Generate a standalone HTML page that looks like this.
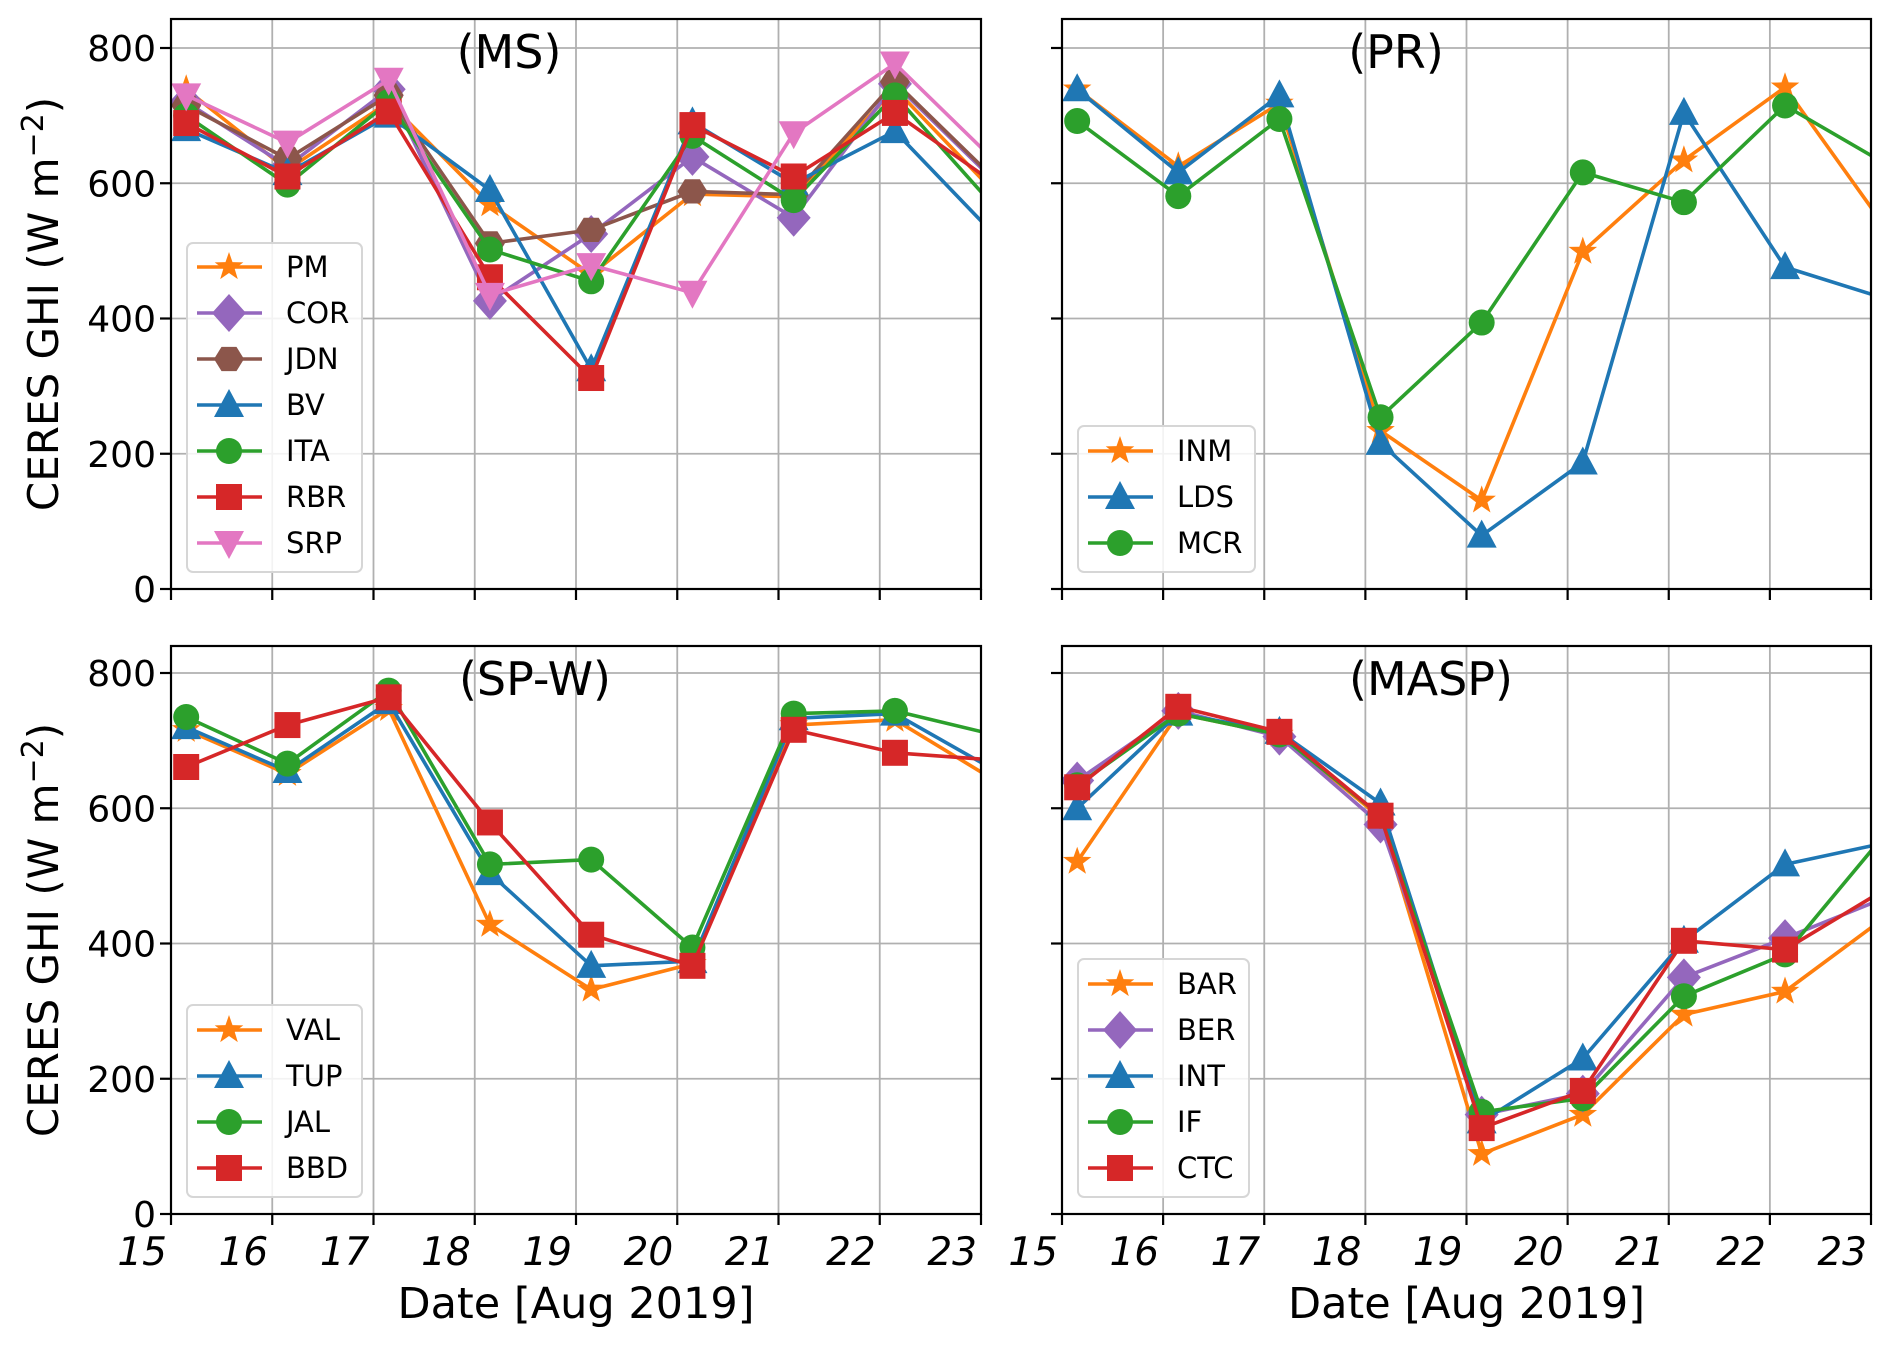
<!DOCTYPE html>
<html><head><meta charset="utf-8">
<style>
html,body{margin:0;padding:0;background:#fff;}
svg{display:block;font-family:"DejaVu Sans","Liberation Sans",sans-serif;}
</style></head>
<body>
<svg id="chart" width="1892" height="1347" viewBox="0 0 1892 1347" xmlns="http://www.w3.org/2000/svg"></svg>
<script>
// ---- data ----
const dayTicks = [15,16,17,18,19,20,21,22,23];
const dayX = [15.15,16.15,17.15,18.15,19.15,20.15,21.15,22.15,23.15];
const yTicks = [0,200,400,600,800];

const msNames = ["PM","COR","JDN","BV","ITA","RBR","SRP"];
const msPM  = [739,620,720,569,465,584,580,740,584];
const msCOR = [720,625,739,426,525,639,549,747,601];
const msJDN = [715,636,730,511,531,588,583,750,604];
const msBV  = [680,615,700,590,325,690,600,677,521];
const msITA = [700,598,720,502,455,670,575,730,562];
const msRBR = [689,610,706,461,312,686,610,704,598];
const msSRP = [730,660,753,435,479,438,674,777,631];

const prNames = ["INM","LDS","MCR"];
const prINM = [739,625,718,234,131,499,634,742,533];
const prLDS = [739,616,730,216,79,187,704,476,429];
const prMCR = [692,581,695,254,394,616,572,715,628];

const spNames = ["VAL","TUP","JAL","BBD"];
const spVAL = [716,651,747,428,332,370,723,731,640];
const spTUP = [720,655,757,504,367,374,733,740,655];
const spJAL = [735,666,774,517,524,394,740,744,708];
const spBBD = [661,723,764,579,413,367,716,682,671];

const maNames = ["BAR","BER","INT","IF","CTC"];
const maBAR = [521,740,709,586,89,147,295,329,440];
const maBER = [641,744,706,576,147,178,350,408,468];
const maINT = [600,740,713,607,137,230,404,517,549];
const maIF  = [634,740,709,589,151,171,322,384,564];
const maCTC = [631,750,713,589,127,182,404,391,481];

const C = {orange:"#ff7f0e",purple:"#9467bd",brown:"#8c564b",blue:"#1f77b4",green:"#2ca02c",red:"#d62728",pink:"#e377c2"};

const panels = [
 {id:"ms", title:"(MS)", x0:171,x1:981,yTop:19,yZero:589, titleX:509, ylab:true, xlab:false,
  series:[[msNames[0],msPM,C.orange,"star"],[msNames[1],msCOR,C.purple,"diamond"],[msNames[2],msJDN,C.brown,"hex"],[msNames[3],msBV,C.blue,"tri"],[msNames[4],msITA,C.green,"circle"],[msNames[5],msRBR,C.red,"square"],[msNames[6],msSRP,C.pink,"tridown"]],
  leg:{x:187,y:243,w:175,h:329,first:267}},
 {id:"pr", title:"(PR)", x0:1062,x1:1871,yTop:19,yZero:589, titleX:1396, ylab:false, xlab:false,
  series:[[prNames[0],prINM,C.orange,"star"],[prNames[1],prLDS,C.blue,"tri"],[prNames[2],prMCR,C.green,"circle"]],
  leg:{x:1078,y:426,w:177,h:146,first:451}},
 {id:"spw", title:"(SP-W)", x0:171,x1:981,yTop:646,yZero:1214, titleX:535, ylab:true, xlab:true,
  series:[[spNames[0],spVAL,C.orange,"star"],[spNames[1],spTUP,C.blue,"tri"],[spNames[2],spJAL,C.green,"circle"],[spNames[3],spBBD,C.red,"square"]],
  leg:{x:187,y:1005,w:175,h:192,first:1030}},
 {id:"masp", title:"(MASP)", x0:1062,x1:1871,yTop:646,yZero:1214, titleX:1431, ylab:false, xlab:true,
  series:[[maNames[0],maBAR,C.orange,"star"],[maNames[1],maBER,C.purple,"diamond"],[maNames[2],maINT,C.blue,"tri"],[maNames[3],maIF,C.green,"circle"],[maNames[4],maCTC,C.red,"square"]],
  leg:{x:1078,y:959,w:171,h:238,first:984}}
];

const NS="http://www.w3.org/2000/svg";
const svg=document.getElementById("chart");
function mk(tag,attrs,parent){const e=document.createElementNS(NS,tag);for(const k in attrs)e.setAttribute(k,attrs[k]);(parent||svg).appendChild(e);return e;}

function marker(shape,cx,cy,color,parent){
  let e;
  if(shape==="circle"){e=mk("circle",{cx:cx,cy:cy,r:13,fill:color},parent);}
  else if(shape==="square"){e=mk("rect",{x:cx-13,y:cy-13,width:26,height:26,fill:color},parent);}
  else if(shape==="diamond"){e=mk("polygon",{points:`${cx},${cy-19} ${cx+17},${cy} ${cx},${cy+19} ${cx-17},${cy}`,fill:color},parent);}
  else if(shape==="tri"){e=mk("polygon",{points:`${cx},${cy-16} ${cx+15},${cy+12} ${cx-15},${cy+12}`,fill:color},parent);}
  else if(shape==="tridown"){e=mk("polygon",{points:`${cx},${cy+16} ${cx+15},${cy-12} ${cx-15},${cy-12}`,fill:color},parent);}
  else if(shape==="hex"){let p=[];for(let i=0;i<6;i++){const a=Math.PI/3*i;p.push((cx+15*Math.cos(a)).toFixed(1)+","+(cy+14*Math.sin(a)).toFixed(1));}e=mk("polygon",{points:p.join(" "),fill:color},parent);}
  else {let p=[];for(let i=0;i<10;i++){const a=-Math.PI/2+Math.PI/5*i;const r=i%2?6:15;p.push((cx+r*Math.cos(a)).toFixed(1)+","+(cy+r*Math.sin(a)).toFixed(1));}e=mk("polygon",{points:p.join(" "),fill:color},parent);}
  return e;
}

panels.forEach(P=>{
  const xs=v=>P.x0+(v-15)/(23-15)*(P.x1-P.x0);
  const ys=v=>P.yZero-v/200*135.25;
  const g=mk("g",{});
  
  
  const cp=mk("clipPath",{id:"clip-"+P.id},g);
  mk("rect",{x:P.x0,y:P.yTop,width:P.x1-P.x0,height:P.yZero-P.yTop},cp);
  dayTicks.forEach(d=>{const l=mk("line",{x1:xs(d),x2:xs(d),y1:P.yTop,y2:P.yZero,stroke:"#b0b0b0","stroke-width":1.8},g);
    
    });
  yTicks.forEach(v=>{const l=mk("line",{x1:P.x0,x2:P.x1,y1:ys(v),y2:ys(v),stroke:"#b0b0b0","stroke-width":1.8},g);
    
    });
  const sg=mk("g",{"clip-path":`url(#clip-${P.id})`},g);
  P.series.forEach(s=>{
    const [name,vals,color,shape]=s;
    const pts=vals.map((v,i)=>xs(dayX[i]).toFixed(1)+","+ys(v).toFixed(1)).join(" ");
    const pl=mk("polyline",{points:pts,fill:"none",stroke:color,"stroke-width":3.6,"stroke-linejoin":"round"},sg);
    
    
    vals.forEach((v,i)=>{const m=marker(shape,xs(dayX[i]),ys(v),color,sg);
      
      });
  });
  const fr=mk("rect",{x:P.x0,y:P.yTop,width:P.x1-P.x0,height:P.yZero-P.yTop,fill:"none",stroke:"#000","stroke-width":2.2},g);
  
  
  dayTicks.forEach(d=>{mk("line",{x1:xs(d),x2:xs(d),y1:P.yZero,y2:P.yZero+11,stroke:"#000","stroke-width":2.2},g);
    if(P.xlab){const t=mk("text",{x:xs(d)-4,y:1265,"text-anchor":"end","font-size":39,"font-style":"oblique",fill:"#000"},g);t.textContent=d;
      
      }});
  yTicks.forEach(v=>{mk("line",{x1:P.x0-11,x2:P.x0,y1:ys(v),y2:ys(v),stroke:"#000","stroke-width":2.2},g);
    if(P.ylab){const t=mk("text",{x:P.x0-15,y:ys(v)+13,"text-anchor":"end","font-size":36,fill:"#000"},g);t.textContent=v;
      
      }});
  const tt=mk("text",{x:P.titleX,y:P.yTop+49,"text-anchor":"middle","font-size":46,fill:"#000"},g);
  tt.textContent=P.title;
  
  
  if(P.ylab){
    const cy=(P.yTop+P.yZero)/2;
    const yl=mk("text",{x:0,y:0,transform:`translate(58,${cy}) rotate(-90)`,"text-anchor":"middle","font-size":42,fill:"#000"},g);
    yl.innerHTML='CERES GHI (W m<tspan dy="-15" font-size="30">\u22122</tspan><tspan dy="15">)</tspan>';
    
    
  }
  if(P.xlab){
    const xl=mk("text",{x:(P.x0+P.x1)/2,y:1318,"text-anchor":"middle","font-size":43,fill:"#000"},g);
    xl.textContent="Date [Aug 2019]";
    
    
  }
  const L=P.leg;
  const lg=mk("g",{},g);
  
  
  mk("rect",{x:L.x,y:L.y,width:L.w,height:L.h,rx:6,fill:"#fff","fill-opacity":0.85,stroke:"#d6d6d6","stroke-width":2},lg);
  P.series.forEach((s,i)=>{
    const [name,,color,shape]=s;
    const cy=L.first+i*46;
    const eg=mk("g",{},lg);
    
    
    mk("line",{x1:L.x+10,x2:L.x+75,y1:cy,y2:cy,stroke:color,"stroke-width":3.6},eg);
    marker(shape,L.x+42,cy,color,eg);
    const t=mk("text",{x:L.x+99,y:cy+10,"font-size":29,fill:"#000"},eg);
    t.textContent=name;
  });
});
</script>
</body></html>
